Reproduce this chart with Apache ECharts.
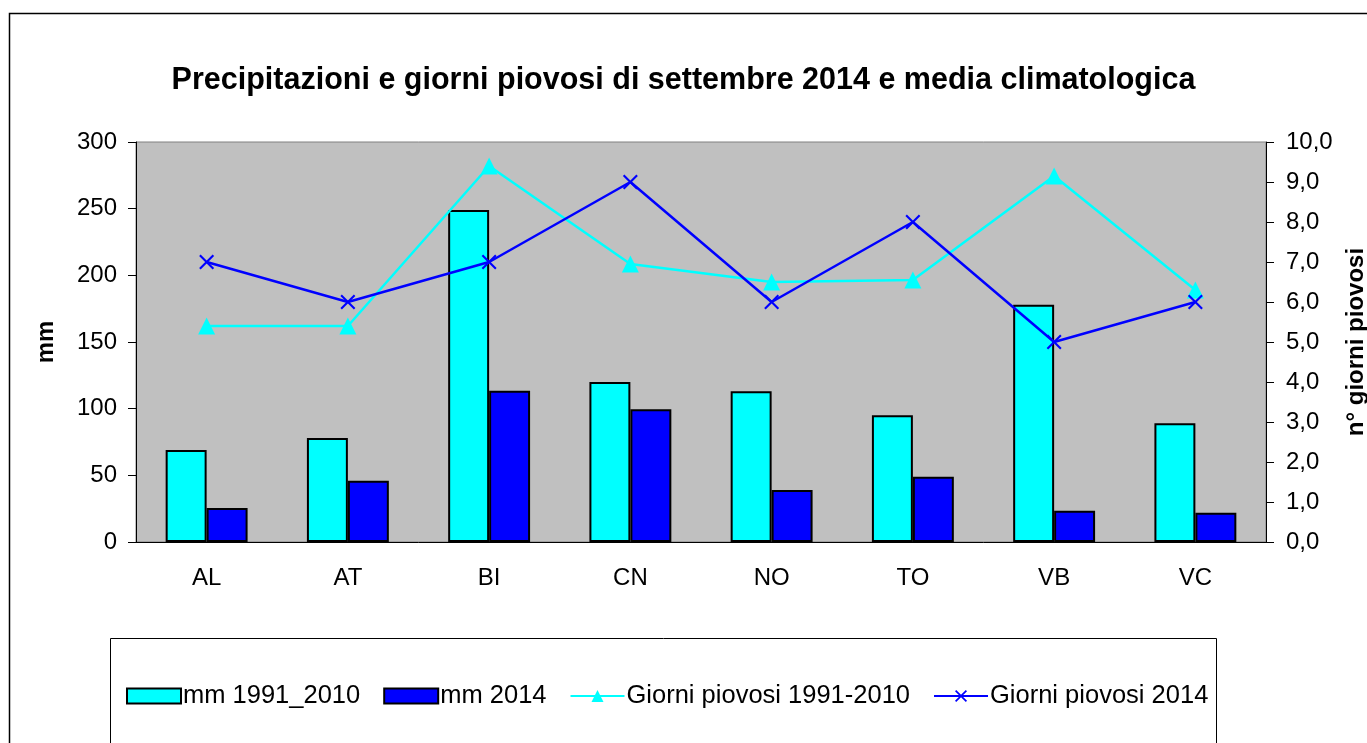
<!DOCTYPE html>
<html style="height: 100%">
<head>
    <meta charset="utf-8">
</head>
<body style="height: 100%; margin: 0; background: #fff">
<div id="container" style="width: 1367px; height: 743px"></div>

<script type="text/javascript" src="https://cdn.jsdelivr.net/npm/echarts@6/dist/echarts.min.js"></script>
<script type="text/javascript">
    // dati
    var province = ['AL', 'AT', 'BI', 'CN', 'NO', 'TO', 'VB', 'VC'];
    var mmClima = [69, 78, 249, 120, 113, 95, 178, 89];
    var mm2014 = [25.5, 46, 113.5, 99.5, 39, 49, 23.5, 22];
    var giorniClima = [5.4, 5.4, 9.4, 6.95, 6.5, 6.55, 9.15, 6.3];
    var giorni2014 = [7, 6, 7, 9, 6, 8, 5, 6];

    var font = 'Liberation Sans, Arial, sans-serif';
    var crossPath = 'path://M0,1L1,0L5,4L9,0L10,1L6,5L10,9L9,10L5,6L1,10L0,9L4,5Z';

    var dom = document.getElementById('container');
    var myChart = echarts.init(dom);
    var option;

    option = {
        backgroundColor: '#fff',
        animation: false,
        textStyle: {fontFamily: font},
        title: {
            text: 'Precipitazioni e giorni piovosi di settembre 2014 e media climatologica',
            left: 'center',
            top: 60,
            textStyle: {fontSize: 30.5, fontWeight: 'bold', color: '#000', fontFamily: font}
        },
        graphic: [
            {
                type: 'rect',
                shape: {x: 9.5, y: 13.5, width: 1400, height: 800},
                style: {fill: 'none', stroke: '#000', lineWidth: 1.5},
                silent: true
            },
            {
                type: 'rect',
                shape: {x: 110.5, y: 638.5, width: 1106, height: 200},
                style: {fill: 'none', stroke: '#000', lineWidth: 1},
                silent: true
            }
        ],
        legend: {
            left: 121,
            top: 678,
            itemWidth: 54,
            itemHeight: 15,
            itemGap: 23,
            textStyle: {fontSize: 25.5, color: '#000', fontFamily: font, padding: [0, 0, 0, -3]},
            data: [
                {name: 'mm 1991_2010', icon: 'rect'},
                {name: 'mm 2014', icon: 'rect'},
                'Giorni piovosi 1991-2010',
                'Giorni piovosi 2014'
            ]
        },
        grid: {
            left: 136,
            right: 101,
            top: 142,
            bottom: 201,
            outerBoundsMode: 'none',
            show: true,
            backgroundColor: '#c0c0c0',
            borderColor: '#808080',
            borderWidth: 1
        },
        xAxis: {
            type: 'category',
            data: province,
            axisLine: {lineStyle: {color: '#000', width: 1}},
            axisTick: {length: 7, lineStyle: {color: '#000'}},
            axisLabel: {fontSize: 24, color: '#000', margin: 24, fontFamily: font}
        },
        yAxis: [
            {
                type: 'value',
                min: 0,
                max: 300,
                interval: 50,
                name: 'mm',
                nameLocation: 'middle',
                nameGap: 78,
                nameTextStyle: {fontSize: 24, fontWeight: 'bold', color: '#000', fontFamily: font},
                axisLine: {show: true, lineStyle: {color: '#000'}},
                axisTick: {show: true, length: 8, lineStyle: {color: '#000'}},
                axisLabel: {fontSize: 24, color: '#000', margin: 19, fontFamily: font},
                splitLine: {show: false}
            },
            {
                type: 'value',
                min: 0,
                max: 10,
                interval: 1,
                name: 'n° giorni piovosi',
                nameLocation: 'middle',
                nameGap: 78,
                nameRotate: 90,
                nameTextStyle: {fontSize: 24, fontWeight: 'bold', color: '#000', fontFamily: font},
                axisLine: {show: true, lineStyle: {color: '#000'}},
                axisTick: {show: true, length: 8, lineStyle: {color: '#000'}},
                axisLabel: {
                    fontSize: 24, color: '#000', margin: 20, fontFamily: font,
                    formatter: function (v) {
                        return v.toFixed(1).replace('.', ',');
                    }
                },
                splitLine: {show: false}
            }
        ],
        series: [
            {
                name: 'mm 1991_2010',
                type: 'bar',
                barGap: '0%',
                barCategoryGap: '42%',
                itemStyle: {color: '#00ffff', borderColor: '#000', borderWidth: 2},
                data: mmClima
            },
            {
                name: 'mm 2014',
                type: 'bar',
                itemStyle: {color: '#0000ff', borderColor: '#000', borderWidth: 2},
                data: mm2014
            },
            {
                name: 'Giorni piovosi 1991-2010',
                type: 'line',
                yAxisIndex: 1,
                symbol: 'triangle',
                symbolSize: 17,
                lineStyle: {color: '#00ffff', width: 2.5},
                itemStyle: {color: '#00ffff'},
                data: giorniClima
            },
            {
                name: 'Giorni piovosi 2014',
                type: 'line',
                yAxisIndex: 1,
                symbol: crossPath,
                symbolSize: 15,
                lineStyle: {color: '#0000ff', width: 2.5},
                itemStyle: {color: '#0000ff'},
                data: giorni2014
            }
        ]
    };

    if (option && typeof option === 'object') {
        myChart.setOption(option);
    }
</script>
</body>
</html>
